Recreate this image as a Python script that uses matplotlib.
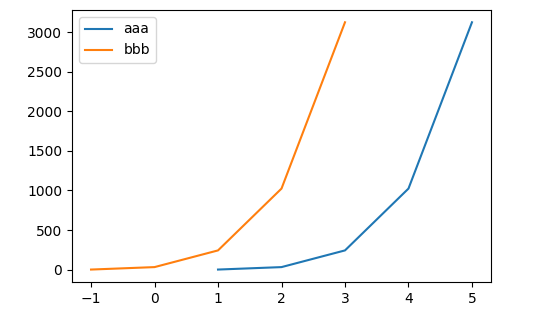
import matplotlib
matplotlib.use("Agg")
import matplotlib.pyplot as plt

# data
x_aaa = [1, 2, 3, 4, 5]
y_aaa = [1, 32, 243, 1024, 3125]
x_bbb = [-1, 0, 1, 2, 3]
y_bbb = [1, 32, 243, 1024, 3125]

fig = plt.figure(figsize=(5.53, 3.2), dpi=100)
ax = fig.add_axes([0.1302, 0.119, 0.7577, 0.850])
ax.plot(x_aaa, y_aaa, label='aaa')
ax.plot(x_bbb, y_bbb, label='bbb')
ax.legend(loc='upper left')

fig.savefig('out.png', dpi=100)
